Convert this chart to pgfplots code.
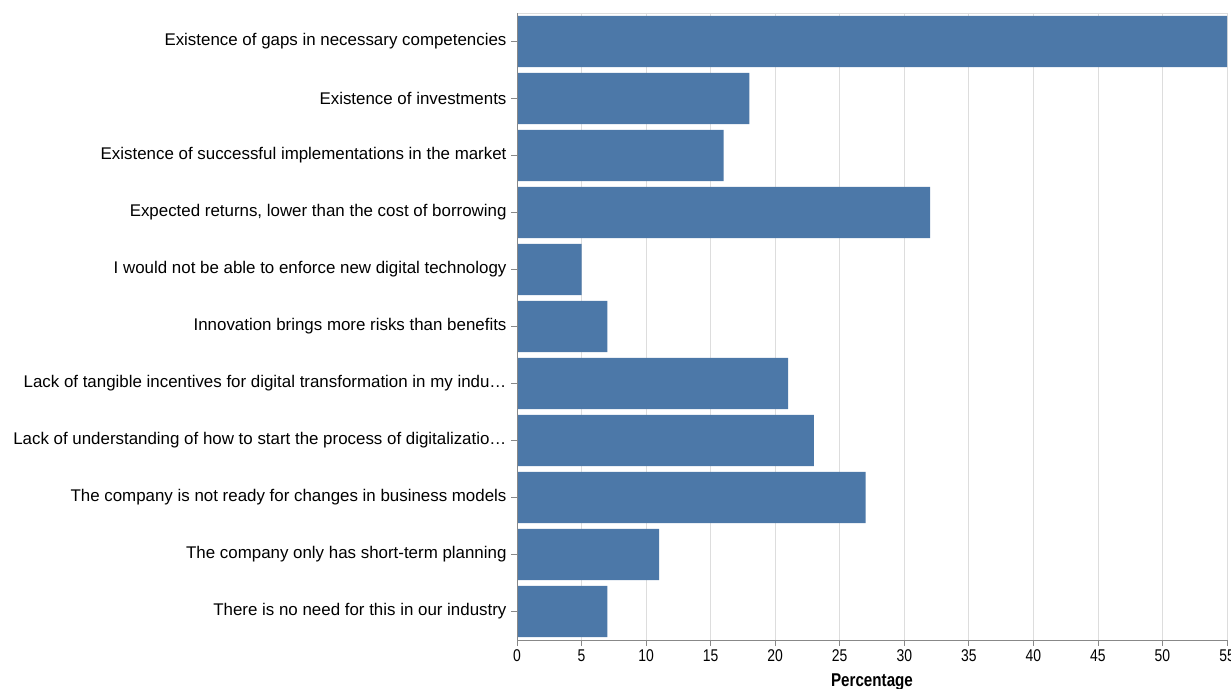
\documentclass[border=0pt]{standalone}
\usepackage{pgfplots}
\pgfplotsset{compat=1.18}
\usepackage{fontspec}
\setmainfont{Liberation Sans}
\newfontfamily\narrowfont[FakeStretch=0.82]{Liberation Sans}
\definecolor{barblue}{HTML}{4C78A8}
\definecolor{gridgray}{HTML}{DDDDDD}
\definecolor{domgray}{HTML}{888888}
\begin{document}
\begin{tikzpicture}
\begin{axis}[
  at={(517pt,48pt)}, anchor=south west,
  scale only axis, width=710pt, height=627pt,
  xbar, bar width=0.9,
  xmin=0, xmax=55, ymin=-0.5, ymax=10.5,
  y dir=reverse,
  ytick={0,...,10},
  yticklabels={
    Existence of gaps in necessary competencies,
    Existence of investments,
    Existence of successful implementations in the market,
    {Expected returns, lower than the cost of borrowing},
    I would not be able to enforce new digital technology,
    Innovation brings more risks than benefits,
    Lack of tangible incentives for digital transformation in my indu…,
    Lack of understanding of how to start the process of digitalizatio…,
    The company is not ready for changes in business models,
    The company only has short-term planning,
    There is no need for this in our industry},
  xtick={0,5,...,55},
  xtick pos=bottom, ytick pos=left,
  axis line style={draw=none},
  xmajorgrids, grid style={gridgray, line width=0.8pt},
  tick style={domgray, line width=0.8pt},
  tick align=outside,
  major tick length=6pt,
  yticklabel style={font=\fontsize{16.9}{20}\selectfont, text=black, xshift=-1pt},
  xticklabel style={font=\narrowfont\fontsize{17}{20}\selectfont, text=black},
  /pgf/number format/assume math mode=true,
  xlabel={\textbf{Percentage}},
  xlabel style={font=\narrowfont\fontsize{18.5}{22}\selectfont, yshift=-5pt},
  clip=false,
]
\draw[gridgray, line width=0.8pt] (axis cs:0,-0.5) -- (axis cs:55,-0.5) -- (axis cs:55,10.5);
\addplot[fill=barblue, draw=none] coordinates {
  (55,0) (18,1) (16,2) (32,3) (5,4) (7,5) (21,6) (23,7) (27,8) (11,9) (7,10)};
\draw[domgray, line width=0.8pt] (axis cs:0,-0.5) -- (axis cs:0,10.5) -- (axis cs:55,10.5);
\end{axis}
\pgfresetboundingbox
\path (0,0) rectangle (1231pt,688pt);
\end{tikzpicture}
\end{document}
